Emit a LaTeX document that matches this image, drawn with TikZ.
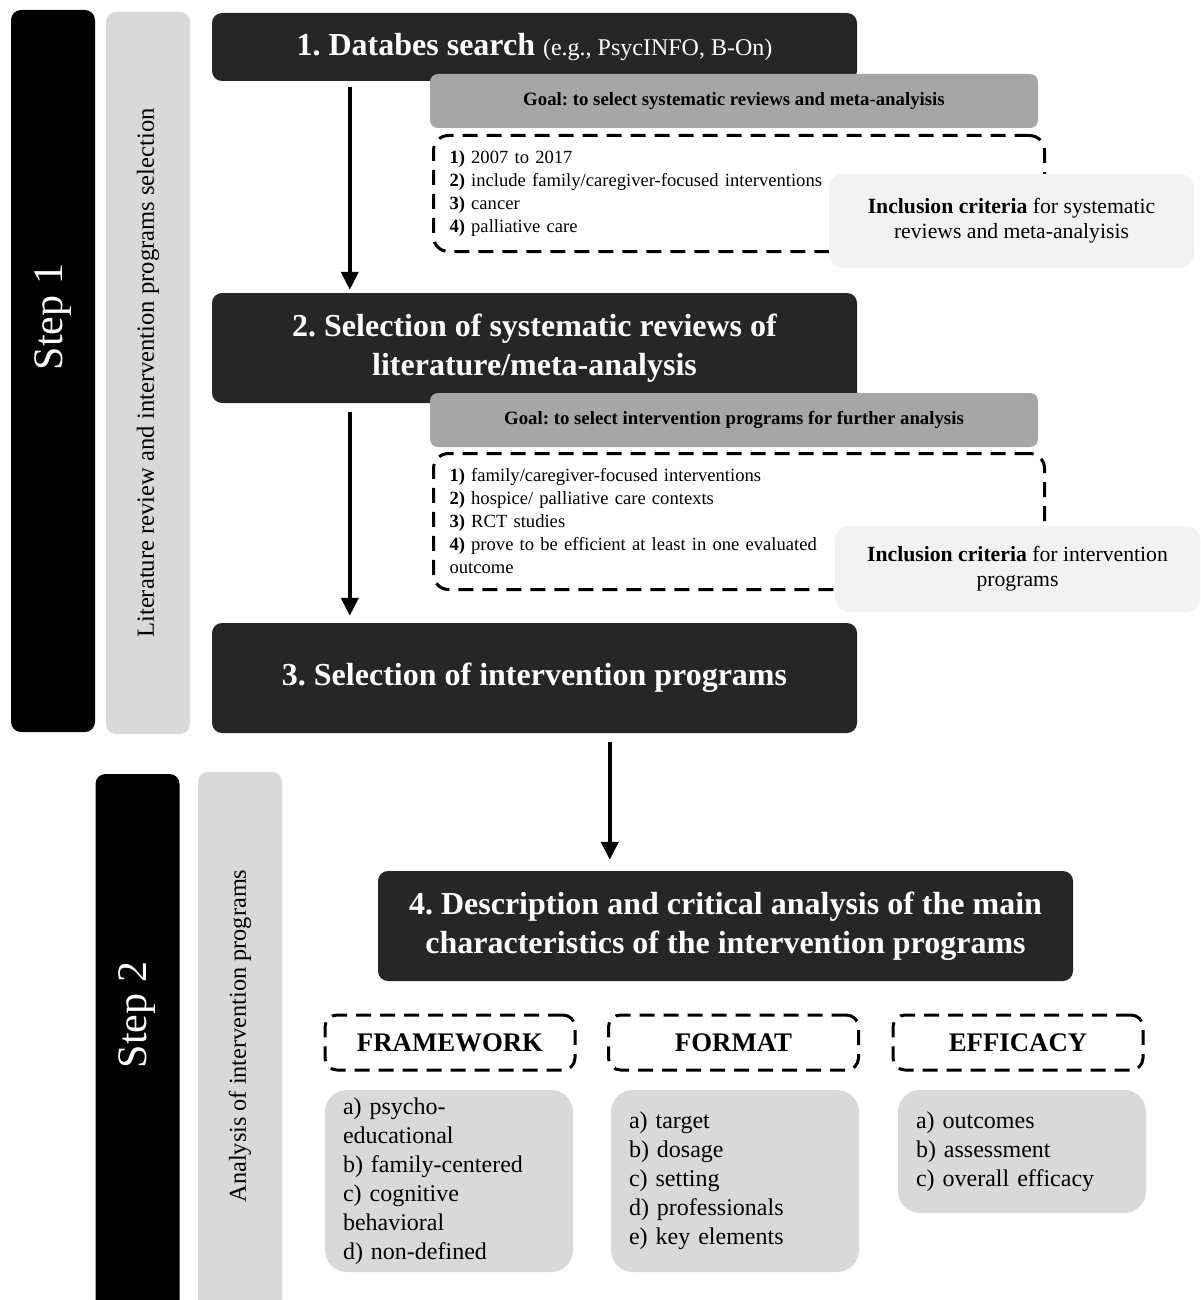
\documentclass[tikz,border=0pt]{standalone}
\usepackage{fontspec}
\setmainfont{Liberation Serif}
\usetikzlibrary{arrows.meta}
\frenchspacing

\definecolor{boxdark}{HTML}{262626}
\definecolor{goalgray}{HTML}{A6A6A6}
\definecolor{bargray}{HTML}{D9D9D9}
\definecolor{inclgray}{HTML}{F2F2F2}

\newcommand{\bigtitle}{\fontsize{32}{39}\selectfont\bfseries}
\newcommand{\critsize}{\fontsize{18.6}{23}\selectfont}
\newcommand{\listsize}{\fontsize{24}{29}\selectfont}

\tikzset{
  stepbar/.style={fill=black, rounded corners=10pt, inner sep=0pt, rotate=90, minimum height=84pt},
  sidebar/.style={fill=bargray, rounded corners=10pt, inner sep=0pt, rotate=90, minimum height=84pt},
  steptext/.style={text=white, rotate=90, font=\fontsize{42}{42}\selectfont},
  mainbox/.style={fill=boxdark, text=white, rounded corners=10pt, inner sep=0pt, align=center},
  goalbox/.style={fill=goalgray, rounded corners=8pt, minimum width=608pt, minimum height=54pt, inner sep=0pt, font=\fontsize{18.8}{20}\selectfont\bfseries},
  critbox/.style={draw, line width=3pt, dash pattern=on 15pt off 9pt, rounded corners=15pt, align=left, text width=579pt, inner xsep=16pt, inner ysep=0pt, font=\critsize},
  inclbox/.style={fill=inclgray, rounded corners=14pt, inner sep=0pt, align=center, font=\fontsize{21.7}{25}\selectfont},
  headbox/.style={draw, line width=3pt, dash pattern=on 15pt off 9pt, rounded corners=12pt, minimum width=250pt, minimum height=55pt, inner sep=0pt, font=\fontsize{26.8}{26.8}\selectfont\bfseries},
  listbox/.style={fill=bargray, rounded corners=22pt, minimum width=248pt, inner xsep=18pt, inner ysep=0pt, text width=212pt, align=left, font=\listsize},
  flowarr/.style={line width=4pt, -{Triangle[width=17pt,length=18pt]}}
}

\begin{document}
\begin{tikzpicture}[x=1pt,y=-1pt]
\useasboundingbox (0,0) rectangle (1200,1300);

% step 1
\node[stepbar, minimum width=722pt] (step1) at (53,371) {};
\node[steptext] (step1txt) at (53,317) {Step 1};
\node[sidebar, minimum width=722pt, font=\fontsize{24.6}{24.6}\selectfont] (lit) at (148,373) {Literature review and intervention programs selection};

% boxes 1-3
\node[mainbox, minimum width=645pt, minimum height=68pt] (db) at (534.5,47)
  {{\bigtitle 1. Databes search\ }{\fontsize{24}{24}\selectfont(e.g., PsycINFO, B-On)}};
\node[goalbox] (goal1) at (734,101) {Goal: to select systematic reviews and meta-analyisis};
\node[critbox, minimum height=116pt, anchor=north west] (crit1) at (432,134)
  {\textbf{1)} 2007 to 2017\\
   \textbf{2)} include family/caregiver-focused interventions\\
   \textbf{3)} cancer\\
   \textbf{4)} palliative care};
\node[inclbox, minimum width=365pt, minimum height=94pt] (incl1) at (1011.5,221)
  {\textbf{Inclusion criteria} for systematic\\ reviews and meta-analyisis};

\node[mainbox, minimum width=645pt, minimum height=110pt, font=\bigtitle] (sel) at (534.5,348)
  {2. Selection of systematic reviews of\\ literature/meta-analysis};
\node[goalbox] (goal2) at (734,420) {Goal: to select intervention programs for further analysis};
\node[critbox, minimum height=136pt, anchor=north west] (crit2) at (432,452)
  {\textbf{1)} family/caregiver-focused interventions\\
   \textbf{2)} hospice/ palliative care contexts\\
   \textbf{3)} RCT studies\\
   \textbf{4)} prove to be efficient at least in one evaluated\\ outcome};
\node[inclbox, minimum width=365pt, minimum height=86pt] (incl2) at (1017.5,569)
  {\textbf{Inclusion criteria} for intervention\\ programs};

\node[mainbox, minimum width=645pt, minimum height=110pt, font=\bigtitle] (prog) at (534.5,678)
  {3. Selection of intervention programs};

\draw[flowarr] ([xshift=138pt,yshift=-6pt]db.south west) -- ([xshift=138pt,yshift=3pt]sel.north west);
\draw[flowarr] ([xshift=138pt,yshift=-9pt]sel.south west) -- ([xshift=138pt,yshift=7pt]prog.north west);

% step 2
\node[stepbar, minimum width=540pt] (step2) at (137.5,1044) {};
\node[steptext] (step2txt) at (137.5,1015) {Step 2};
\node[sidebar, minimum width=540pt] (ana) at (240,1042) {};
\node[rotate=90, font=\fontsize{24.3}{24.3}\selectfont] (anatxt) at (240,1036) {Analysis of intervention programs};

\node[mainbox, minimum width=695pt, minimum height=110pt, font=\bigtitle] (desc) at (725.5,926)
  {4. Description and critical analysis of the main\\ characteristics of the intervention programs};
\draw[flowarr] ([xshift=398pt,yshift=-9pt]prog.south west) -- ([xshift=232pt,yshift=11pt]desc.north west);

\node[headbox] (frame) at (450,1042.5) {FRAMEWORK};
\node[headbox] (form) at (733.5,1042.5) {FORMAT};
\node[headbox] (eff) at (1018,1042.5) {EFFICACY};

\node[listbox, minimum height=182pt] (framelist) at (449,1181)
  {a) psycho-\\ educational\\ b) family-centered\\ c) cognitive\\ behavioral\\ d) non-defined};
\node[listbox, minimum height=182pt] (formlist) at (735,1181)
  {a) target\\ b) dosage\\ c) setting\\ d) professionals\\ e) key elements};
\node[listbox, minimum height=123pt] (efflist) at (1022,1151.5)
  {a) outcomes\\ b) assessment\\ c) overall efficacy};
\end{tikzpicture}
\end{document}
